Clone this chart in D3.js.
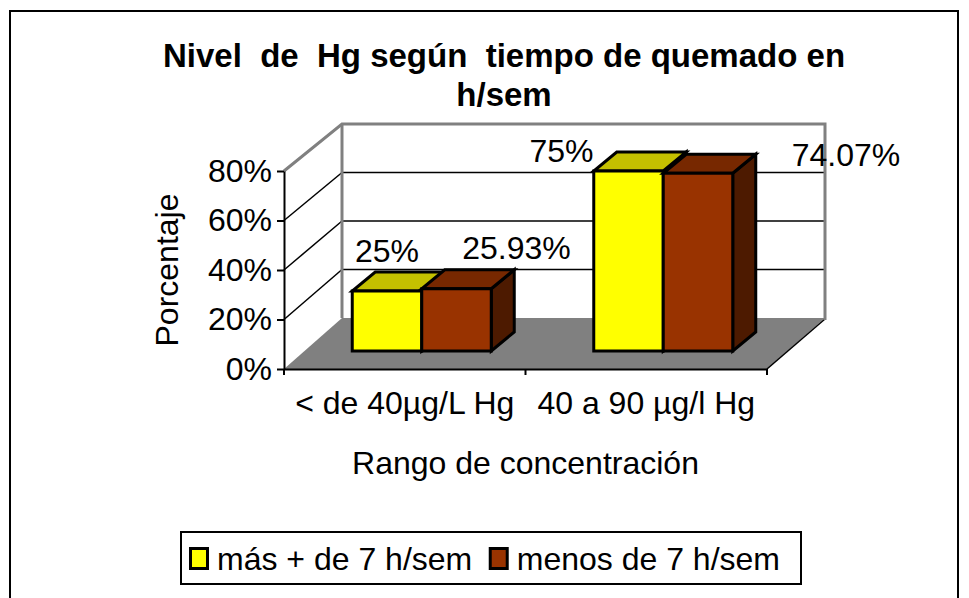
<!DOCTYPE html>
<html>
<head>
<meta charset="utf-8">
<script src="https://cdn.jsdelivr.net/npm/d3@7/dist/d3.min.js"></script>
<style>
  html, body { margin: 0; padding: 0; background: #fff; }
  svg { display: block; font-family: "Liberation Sans", Arial, sans-serif; }
  .pre { white-space: pre; }
</style>
</head>
<body>
<svg id="chart" width="969" height="598"></svg>
<script>
// ---- data ----
const categories = ["< de 40µg/L Hg", "40 a 90 µg/l Hg"];
const seriesNames = ["más + de 7 h/sem", "menos de 7 h/sem"];
const masValues = [25, 75];
const menosValues = [25.93, 74.07];
const yTickValues = [0, 20, 40, 60, 80];
const yTickLabels = ["0%", "20%", "40%", "60%", "80%"];
const masLabels = ["25%", "75%"];
const menosLabels = ["25.93%", "74.07%"];
const titleLines = ["Nivel  de  Hg según  tiempo de quemado en", "h/sem"];
const xTitle = "Rango de concentración";
const yTitle = "Porcentaje";

// ---- layout / style ----
const svg = d3.select("#chart");
const FONT = 32;
const colors = {
  mas:   { front: "#FFFF00", top: "#C4C000", side: "#808000" },
  menos: { front: "#993300", top: "#772800", side: "#4D1A00" }
};
const wallGray = "#808080";
const depthDx = 58;
const barOffDx = 17, barOffDy = -18;
const barDepthDx = 23, barDepthDy = -19;
const barW = 69.5;

const x = d3.scaleBand().domain(categories).range([284, 767]);
const yFront = d3.scaleLinear().domain([0, 80]).range([369, 171]);
const yBack = d3.scaleLinear().domain([0, 80]).range([318, 124]);
const yBar = d3.scaleLinear().domain([0, 80]).range([369 + barOffDy, 369 + barOffDy - 192]);
const xs = d3.scaleBand().domain(seriesNames).range([-barW, barW]);

const x0 = x.range()[0], x1 = x.range()[1];

// outer border
svg.append("rect").attr("x", 10).attr("y", 11).attr("width", 948).attr("height", 620)
  .attr("fill", "#fff").attr("stroke", "#000").attr("stroke-width", 2);

// title
svg.append("g").selectAll("text").data(titleLines).join("text")
  .attr("class", "pre")
  .attr("x", 504).attr("y", (d, i) => 67 + i * 39)
  .attr("text-anchor", "middle").attr("font-weight", "bold").attr("font-size", 33)
  .text(d => d);

const line = d3.line();

// side wall (white)
svg.append("path")
  .attr("d", line([[x0, yFront(0)], [x0, yFront(80)], [x0 + depthDx, yBack(80)], [x0 + depthDx, yBack(0)]]) + "Z")
  .attr("fill", "#fff");
// back wall
svg.append("rect").attr("x", x0 + depthDx).attr("y", yBack(80))
  .attr("width", x1 - x0).attr("height", yBack(0) - yBack(80)).attr("fill", "#fff");

// floor
svg.append("path")
  .attr("d", line([[x0, yFront(0)], [x0 + depthDx, yBack(0)], [x1 + depthDx, yBack(0)], [x1, yFront(0)]]) + "Z")
  .attr("fill", wallGray);
svg.append("line")
  .attr("x1", x1).attr("y1", yFront(0)).attr("x2", x1 + depthDx).attr("y2", yBack(0) + 1)
  .attr("stroke", "#000").attr("stroke-width", 1.5);

// gridlines
const inner = yTickValues.filter(t => t > 0 && t < 80);
svg.append("g").selectAll("line.bg").data(inner).join("line")
  .attr("x1", x0 + depthDx).attr("x2", x1 + depthDx)
  .attr("y1", d => yBack(d)).attr("y2", d => yBack(d))
  .attr("stroke", "#000").attr("stroke-width", 1.5);
svg.append("g").selectAll("line.sg").data(inner).join("line")
  .attr("x1", x0).attr("y1", d => yFront(d))
  .attr("x2", x0 + depthDx).attr("y2", d => yBack(d))
  .attr("stroke", "#000").attr("stroke-width", 1.5);

// wall borders (gray)
svg.append("path")
  .attr("d", line([[x0, yFront(80)], [x0 + depthDx, yBack(80)], [x1 + depthDx, yBack(80)], [x1 + depthDx, yBack(0) + 2]]))
  .attr("fill", "none").attr("stroke", wallGray).attr("stroke-width", 3).attr("stroke-linejoin", "miter");
svg.append("line")
  .attr("x1", x0 + depthDx).attr("y1", yBack(80)).attr("x2", x0 + depthDx).attr("y2", yBack(0))
  .attr("stroke", wallGray).attr("stroke-width", 3);

// bars
const barData = [];
categories.forEach((c, i) => {
  barData.push({ cat: c, s: seriesNames[0], v: masValues[i], col: colors.mas, label: masLabels[i] });
  barData.push({ cat: c, s: seriesNames[1], v: menosValues[i], col: colors.menos, label: menosLabels[i] });
});
const barG = svg.append("g");
barData.forEach(d => {
  const left = x(d.cat) + x.bandwidth() / 2 + barOffDx + xs(d.s);
  const right = left + xs.bandwidth();
  const top = yBar(d.v), bot = yBar(0);
  const g = barG.append("g").attr("stroke", "#000").attr("stroke-width", 3).attr("stroke-linejoin", "miter");
  g.append("path").attr("fill", d.col.side)
    .attr("d", line([[right, bot], [right, top], [right + barDepthDx, top + barDepthDy], [right + barDepthDx, bot + barDepthDy]]) + "Z");
  g.append("path").attr("fill", d.col.top)
    .attr("d", line([[left, top], [right, top], [right + barDepthDx, top + barDepthDy], [left + barDepthDx, top + barDepthDy]]) + "Z");
  g.append("rect").attr("fill", d.col.front)
    .attr("x", left).attr("y", top).attr("width", right - left).attr("height", bot - top);
  d.cx = (left + right) / 2; d.top = top;
});

// y axis
const yAxis = d3.axisLeft(yFront).tickValues(yTickValues)
  .tickFormat((d, i) => yTickLabels[i]).tickSize(7).tickSizeOuter(0).tickPadding(5);
const ya = svg.append("g").attr("transform", `translate(${x0},0)`).call(yAxis);
ya.select(".domain").attr("stroke", "#000").attr("stroke-width", 2);
ya.selectAll(".tick line").attr("stroke", "#000").attr("stroke-width", 2);
ya.selectAll(".tick text").attr("font-size", FONT).attr("fill", "#000")
  .attr("font-family", "'Liberation Sans', Arial, sans-serif");

// x axis
const xAxis = d3.axisBottom(x).tickSize(0).tickSizeOuter(0).tickPadding(22);
const xa = svg.append("g").attr("transform", `translate(0,${yFront(0)})`).call(xAxis);
xa.select(".domain").attr("stroke", "#000").attr("stroke-width", 2);
xa.selectAll(".tick text").attr("font-size", FONT).attr("fill", "#000")
  .attr("font-family", "'Liberation Sans', Arial, sans-serif");
const edges = categories.map(c => x(c)).concat([x1]);
svg.append("g").selectAll("line").data(edges).join("line")
  .attr("x1", d => d).attr("x2", d => d)
  .attr("y1", yFront(0)).attr("y2", yFront(0) + 6)
  .attr("stroke", "#000").attr("stroke-width", 2);

// value labels (placement as in reference)
const labelDx = [0, 60, -67, 148];
const labelDy = [-29, -30, -9, -7];
svg.append("g").selectAll("text").data(barData).join("text")
  .attr("x", (d, i) => d.cx + labelDx[i])
  .attr("y", (d, i) => d.top + labelDy[i])
  .attr("text-anchor", "middle").attr("font-size", FONT)
  .text(d => d.label);

// axis titles
svg.append("text").attr("x", (x0 + x1) / 2).attr("y", 474)
  .attr("text-anchor", "middle").attr("font-size", FONT).text(xTitle);
svg.append("text").attr("transform", `translate(178,${(yFront(0) + yFront(80)) / 2}) rotate(-90)`)
  .attr("text-anchor", "middle").attr("font-size", FONT).text(yTitle);

// legend
const lg = svg.append("g");
lg.append("rect").attr("x", 181).attr("y", 532).attr("width", 620).attr("height", 52)
  .attr("fill", "#fff").attr("stroke", "#000").attr("stroke-width", 2);
let lx = 190.5;
[colors.mas, colors.menos].forEach((c, i) => {
  lg.append("rect").attr("x", lx).attr("y", 548.5).attr("width", 17).attr("height", 20)
    .attr("fill", c.front).attr("stroke", "#000").attr("stroke-width", 3);
  const t = lg.append("text").attr("x", lx + 26.5).attr("y", 570).attr("font-size", FONT).text(seriesNames[i]);
  lx = lx + 26.5 + t.node().getComputedTextLength() + 18;
});
</script>
</body>
</html>
